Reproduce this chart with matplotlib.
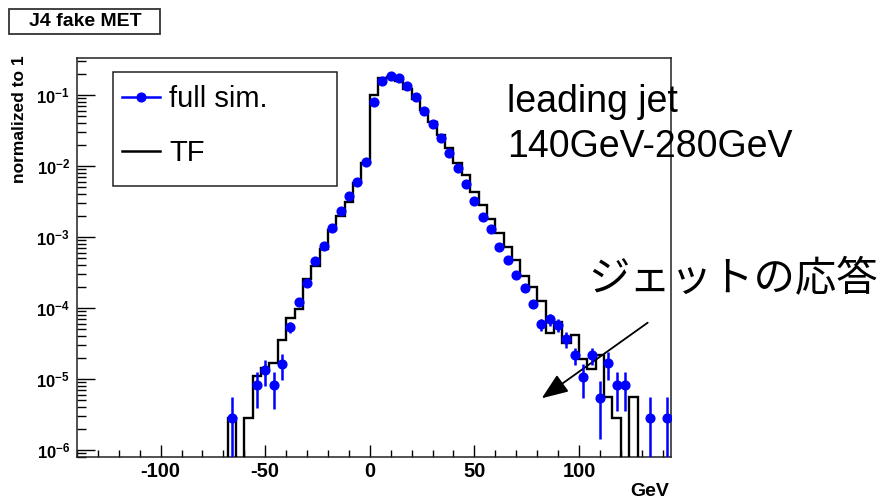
import numpy as np
import matplotlib
matplotlib.use("Agg")
import matplotlib.pyplot as plt
from matplotlib.lines import Line2D
from matplotlib.patches import Rectangle
from matplotlib.ticker import MultipleLocator, LogLocator, NullFormatter, FuncFormatter

plt.rcParams["font.family"] = ["Liberation Sans", "DejaVu Sans"]
plt.rcParams["mathtext.fontset"] = "custom"
plt.rcParams["mathtext.rm"] = "Liberation Sans"
plt.rcParams["mathtext.bf"] = "Liberation Sans:bold"
plt.rcParams["axes.unicode_minus"] = False

# ---- data: missing-ET response, 4 GeV bins (bin centres in GeV) ----
bin_centers = np.arange(-66, 146, 4)

tf_values = [
    2.79e-6, 0.0, 2.79e-6, 1.107e-5, 1.41e-5, 1.67e-5, 3.55e-5, 7.16e-5,
    9.59e-5, 2.54e-4, 3.91e-4, 6.72e-4, 1.256e-3, 1.98e-3, 3.14e-3, 5.71e-3,
    1.111e-2, 0.100, 0.172, 0.181, 0.159, 0.120, 0.0873, 0.0614,
    0.0419, 0.0273, 0.0177, 1.111e-2, 7.47e-3, 4.36e-3, 2.83e-3, 1.79e-3,
    1.151e-3, 7.30e-4, 4.75e-4, 2.82e-4, 1.995e-4, 1.264e-4, 4.40e-5, 6.41e-5,
    3.24e-5, 4.17e-5, 1.90e-5, 1.37e-5, 2.17e-5, 5.58e-6, 2.79e-6, 0.0,
    5.58e-6, 0.0, 0.0, 0.0, 0.0,
]

fullsim_values = [
    2.79e-6, 0.0, 0.0, 8.22e-6, 1.337e-5, 8.22e-6, 1.62e-5, 5.45e-5,
    1.23e-4, 2.22e-4, 4.64e-4, 7.48e-4, 1.327e-3, 2.35e-3, 3.78e-3, 6.01e-3,
    1.149e-2, 0.0805, 0.159, 0.186, 0.172, 0.134, 0.0947, 0.0601,
    0.0390, 0.0245, 0.0154, 9.29e-3, 5.53e-3, 3.25e-3, 1.93e-3, 1.279e-3,
    7.30e-4, 4.75e-4, 2.92e-4, 1.93e-4, 1.139e-4, 5.89e-5, 6.93e-5, 5.75e-5,
    3.62e-5, 2.17e-5, 1.074e-5, 2.17e-5, 5.35e-6, 1.67e-5, 8.15e-6, 8.15e-6,
    0.0, 0.0, 2.79e-6, 0.0, 2.79e-6,
]

fullsim_errors = [
    2.79e-6, 0.0, 0.0, 4.3e-6, 5.4e-6, 4.5e-6, 6.5e-6, 1.0e-5,
    1.45e-5, 1.9e-5, 2.9e-5, 3.5e-5, 4.7e-5, 5.9e-5, 8.3e-5, 1.07e-4,
    1.45e-4, 3.7e-4, 5.0e-4, 5.7e-4, 5.4e-4, 4.8e-4, 4.0e-4, 3.2e-4,
    2.6e-4, 2.1e-4, 1.6e-4, 1.2e-4, 9.5e-5, 7.1e-5, 5.6e-5, 4.5e-5,
    3.5e-5, 2.9e-5, 2.3e-5, 1.8e-5, 1.45e-5, 1.2e-5, 1.3e-5, 1.2e-5,
    9.3e-6, 6.0e-6, 5.4e-6, 6.0e-6, 3.9e-6, 7.0e-6, 4.6e-6, 4.6e-6,
    0.0, 0.0, 2.79e-6, 0.0, 2.79e-6,
]

x_range = (-140, 144)
bin_width = 4
y_range = (7.97e-7, 0.332)

# ---- figure geometry (pixels) ----
W, H = 878, 499
fig = plt.figure(figsize=(W / 100, H / 100), dpi=100)


def fx(px):
    return px / W


def fy(py):
    return 1 - py / H


ax = fig.add_axes([fx(77), fy(457), fx(671) - fx(77), fy(58) - fy(457)])
ax.set_yscale("log")
ax.set_xlim(*x_range)
ax.set_ylim(*y_range)

floor = y_range[0] * 1e-3

# TF histogram over the full axis range
edges = np.arange(x_range[0], x_range[1] + bin_width, bin_width)
full = np.zeros(len(edges) - 1)
centers = np.asarray(bin_centers, dtype=float)
idx = ((centers - x_range[0]) // bin_width).astype(int)
full[idx] = tf_values
ax.stairs(np.where(full > 0, full, floor), edges, baseline=None,
          color="black", lw=1.7, zorder=3)

# full simulation points with error bars
v = np.asarray(fullsim_values)
e = np.asarray(fullsim_errors)
m = v > 0
lo = np.where(v - e > 0, v - e, floor)
ax.vlines(centers[m], lo[m], (v + e)[m], color="blue", lw=1.8, zorder=4)
ax.plot(centers[m], v[m], "o", color="blue", ms=6.3, mec="blue", zorder=5)

# axes styling
for s in ax.spines.values():
    s.set_linewidth(1.1)
    s.set_color("#222222")

ax.xaxis.set_major_locator(MultipleLocator(50))
ax.xaxis.set_minor_locator(MultipleLocator(10))
ax.yaxis.set_major_locator(LogLocator(base=10, numticks=20))
ax.yaxis.set_minor_locator(LogLocator(base=10, subs=np.arange(2, 10), numticks=20))
ax.yaxis.set_minor_formatter(NullFormatter())
ax.yaxis.set_major_formatter(
    FuncFormatter(lambda val, pos: r"$\mathbf{10^{%d}}$" % int(round(np.log10(val))))
)
ax.xaxis.set_major_formatter(FuncFormatter(lambda val, pos: "%d" % val))

ax.tick_params(axis="x", which="major", direction="in", length=8.6, width=1.0,
               top=False, pad=3.5, labelsize=14.5)
ax.tick_params(axis="x", which="minor", direction="in", length=4.7, width=1.0, top=False)
ax.tick_params(axis="y", which="major", direction="in", length=13, width=1.0,
               right=False, pad=5, labelsize=12)
ax.tick_params(axis="y", which="minor", direction="in", length=6.5, width=1.0, right=False)
for lab in ax.get_xticklabels():
    lab.set_fontweight("bold")

# axis titles
fig.text(fx(20), fy(55), "normalized to 1", rotation=90, ha="center", va="top",
         fontsize=12.5, fontweight="bold")
fig.text(fx(669), fy(496), "GeV", ha="right", va="baseline",
         fontsize=14, fontweight="bold")

# title box
fig.patches.append(Rectangle((fx(9.5), fy(34.3)), fx(160) - fx(9.5), fy(9.5) - fy(34.3),
                             transform=fig.transFigure, fill=False,
                             edgecolor="#333333", lw=1.3))
fig.text(fx(85), fy(22), "J4 fake MET", ha="center", va="center",
         fontsize=14, fontweight="bold")

# legend
fig.patches.append(Rectangle((fx(113), fy(186)), fx(337) - fx(113), fy(72) - fy(186),
                             transform=fig.transFigure, fill=True, facecolor="white",
                             edgecolor="#222222", lw=1.1, zorder=10))
fig.lines.append(Line2D([fx(122), fx(160)], [fy(97), fy(97)], transform=fig.transFigure,
                        color="blue", lw=1.8, zorder=11))
fig.lines.append(Line2D([fx(141)], [fy(97)], transform=fig.transFigure,
                        color="blue", marker="o", ms=6.3, zorder=12))
fig.lines.append(Line2D([fx(122), fx(160)], [fy(151), fy(151)], transform=fig.transFigure,
                        color="black", lw=1.8, zorder=11))
fig.text(fx(169), fy(99), "full sim.", ha="left", va="center", fontsize=21, zorder=12)
fig.text(fx(169), fy(153), "TF", ha="left", va="center", fontsize=21, zorder=12)

# annotations
fig.text(fx(507), fy(111.7), "leading jet", ha="left", va="baseline", fontsize=27)
fig.text(fx(507), fy(157.3), "140GeV-280GeV", ha="left", va="baseline", fontsize=27)
fig.text(fx(588), fy(279), "ジェットの応答", ha="left", va="center", fontsize=29.8,
         family=["Noto Sans CJK JP", "DejaVu Sans"])
ax.annotate("", xy=(fx(541.7), fy(398.3)), xytext=(fx(647.7), fy(322.7)),
            xycoords="figure fraction", textcoords="figure fraction",
            arrowprops=dict(arrowstyle="-|>,head_length=0.9,head_width=0.35",
                            mutation_scale=18, lw=1.3, color="black",
                            shrinkA=0, shrinkB=0))

fig.savefig("out.png", dpi=100)
